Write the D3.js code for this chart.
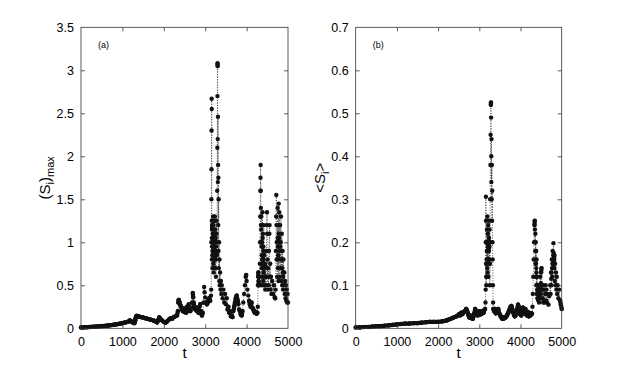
<!DOCTYPE html>
<html>
<head>
<meta charset="utf-8">
<script src="https://cdn.jsdelivr.net/npm/d3@7"></script>
<style>
  html, body { margin: 0; padding: 0; background: #fff; }
  svg { display: block; }
  text { font-family: "Liberation Sans", Arial, Helvetica, sans-serif; fill: #000; }
</style>
</head>
<body>
<svg id="chart" width="623" height="370"></svg>
<script>
// ---------------- data ----------------
const xTicks = [0, 1000, 2000, 3000, 4000, 5000];
const yTicksA = [0, 0.5, 1, 1.5, 2, 2.5, 3, 3.5];
const yTicksB = [0, 0.1, 0.2, 0.3, 0.4, 0.5, 0.6, 0.7];

// panel (a): (S_i)_max vs t  -- [t, value]
const seriesA = [
  [0,0.01],[50,0.01],[100,0.012],[150,0.013],[200,0.015],[250,0.016],[300,0.018],[350,0.02],
  [400,0.022],[450,0.024],[500,0.026],[550,0.027],[600,0.03],[650,0.032],[700,0.035],[750,0.038],
  [800,0.042],[850,0.046],[900,0.05],[950,0.055],[1000,0.06],[1050,0.066],[1100,0.072],[1150,0.08],
  [1180,0.09],[1200,0.085],[1230,0.075],[1260,0.065],[1290,0.06],[1310,0.09],[1320,0.12],[1340,0.145],
  [1370,0.14],[1400,0.138],[1450,0.13],[1500,0.125],[1550,0.118],[1600,0.112],[1650,0.105],[1700,0.098],
  [1750,0.09],[1800,0.08],[1840,0.07],[1870,0.1],[1890,0.125],[1910,0.115],[1950,0.095],[2000,0.075],
  [2040,0.065],[2080,0.08],[2120,0.1],[2160,0.115],[2200,0.11],[2240,0.13],[2280,0.14],[2320,0.15],
  [2340,0.2],[2350,0.3],[2360,0.33],[2380,0.3],[2400,0.27],[2420,0.25],[2440,0.22],[2460,0.2],
  [2480,0.23],[2500,0.19],[2520,0.22],[2540,0.18],[2560,0.25],[2580,0.2],[2600,0.28],[2620,0.22],
  [2640,0.2],[2660,0.24],[2680,0.3],[2700,0.41],[2710,0.36],[2720,0.3],[2740,0.25],[2760,0.22],
  [2780,0.24],[2800,0.2],[2820,0.23],[2840,0.18],[2860,0.25],[2880,0.28],[2900,0.2],[2920,0.15],
  [2940,0.18],[2960,0.3],[2975,0.48],[2985,0.42],[3000,0.36],[3020,0.3],[3040,0.28],[3060,0.3],
  [3080,0.33],[3100,0.35],[3120,0.32],[3140,0.38],[3145,0.45],[3148,1.0],[3150,1.5],[3152,1.85],
  [3154,2.3],[3156,2.67],[3158,2.55],[3160,1.25],[3162,1.05],[3163,0.8],[3165,0.95],[3166,1.2],
  [3168,1.15],[3170,1.0],[3172,0.85],[3175,0.7],[3178,0.9],[3180,1.1],[3183,1.0],[3185,0.9],
  [3188,1.05],[3190,1.3],[3192,1.0],[3195,0.75],[3198,0.95],[3200,1.2],[3202,0.9],[3205,0.65],
  [3208,0.8],[3210,1.0],[3213,1.1],[3215,1.25],[3218,0.95],[3220,0.7],[3223,0.85],[3225,1.1],
  [3228,1.0],[3230,0.9],[3233,1.1],[3235,1.3],[3238,1.05],[3240,0.8],[3243,1.0],[3245,1.15],
  [3248,0.9],[3250,0.7],[3253,0.85],[3255,1.05],[3258,0.8],[3260,0.6],[3263,0.95],[3265,1.25],
  [3268,1.1],[3270,0.9],[3278,0.85],[3285,1.0],[3290,1.6],[3293,2.1],[3296,2.7],[3298,3.08],
  [3300,3.05],[3303,2.2],[3306,1.7],[3309,2.46],[3312,1.9],[3315,1.2],[3318,1.75],[3321,0.9],
  [3325,1.5],[3330,0.7],[3335,1.0],[3340,0.55],[3345,0.8],[3350,0.5],[3360,0.65],[3370,0.45],
  [3380,0.55],[3390,0.4],[3400,0.5],[3420,0.35],[3440,0.45],[3460,0.3],[3480,0.4],[3500,0.28],
  [3520,0.35],[3540,0.22],[3560,0.25],[3580,0.18],[3600,0.2],[3620,0.14],[3640,0.15],[3660,0.13],
  [3680,0.2],[3700,0.25],[3720,0.3],[3740,0.35],[3760,0.38],[3780,0.33],[3800,0.28],[3820,0.22],
  [3840,0.2],[3860,0.16],[3880,0.15],[3900,0.2],[3920,0.3],[3940,0.4],[3960,0.5],[3980,0.6],
  [3990,0.62],[4000,0.55],[4020,0.45],[4040,0.38],[4060,0.32],[4080,0.28],[4100,0.25],[4120,0.3],
  [4140,0.24],[4160,0.22],[4180,0.2],[4200,0.18],[4220,0.19],[4240,0.17],[4260,0.18],[4270,0.25],
  [4275,0.5],[4280,0.6],[4285,0.65],[4290,0.55],[4300,0.5],[4310,0.6],[4320,0.75],[4325,1.0],
  [4330,1.3],[4333,1.6],[4336,1.75],[4339,1.9],[4342,1.6],[4345,1.4],[4347,1.2],[4350,1.0],
  [4352,1.15],[4355,1.3],[4357,1.0],[4360,0.7],[4362,0.95],[4365,1.2],[4367,0.85],[4370,0.5],
  [4372,0.75],[4375,1.0],[4377,0.8],[4380,0.6],[4382,0.95],[4385,1.35],[4387,1.05],[4390,0.8],
  [4392,0.95],[4395,1.1],[4397,0.8],[4400,0.55],[4402,0.75],[4405,0.95],[4407,0.8],[4410,0.65],
  [4412,0.9],[4415,1.2],[4417,0.85],[4420,0.5],[4422,0.7],[4425,0.85],[4427,0.7],[4430,0.6],
  [4435,0.7],[4440,0.75],[4445,0.6],[4450,0.45],[4455,0.6],[4460,0.7],[4470,0.5],[4480,0.9],
  [4488,1.2],[4492,1.35],[4496,1.1],[4500,0.6],[4505,0.8],[4510,0.45],[4520,0.7],[4530,0.5],
  [4540,0.9],[4550,1.1],[4556,1.2],[4560,0.6],[4570,0.75],[4580,0.45],[4590,0.6],[4600,0.4],
  [4620,0.55],[4640,0.4],[4660,0.5],[4680,0.36],[4690,0.35],[4700,0.45],[4708,0.9],[4714,1.3],
  [4718,1.55],[4722,1.2],[4726,0.8],[4730,1.0],[4740,0.6],[4745,1.0],[4750,1.4],[4752,1.05],
  [4755,0.7],[4757,0.95],[4760,1.2],[4765,0.85],[4770,0.55],[4772,1.0],[4775,1.45],[4777,1.1],
  [4780,0.8],[4785,1.05],[4790,1.35],[4795,0.95],[4800,0.6],[4805,0.9],[4810,1.2],[4815,0.95],
  [4820,0.7],[4825,1.0],[4830,1.3],[4835,0.9],[4840,0.55],[4845,0.8],[4850,1.1],[4855,0.8],
  [4860,0.5],[4865,0.7],[4870,0.9],[4875,0.65],[4880,0.45],[4885,0.6],[4890,0.8],[4895,0.65],
  [4900,0.5],[4910,0.65],[4920,0.4],[4930,0.55],[4940,0.35],[4950,0.5],[4960,0.32],[4970,0.45],
  [4980,0.3],[4990,0.4],[5000,0.3]
];

// panel (b): <S_i> vs t  -- [t, value]
const seriesB = [
  [0,0.002],[100,0.002],[200,0.003],[300,0.003],[400,0.004],[500,0.005],[600,0.005],[700,0.006],
  [800,0.007],[900,0.008],[1000,0.009],[1100,0.01],[1200,0.011],[1300,0.011],[1400,0.012],[1500,0.012],
  [1600,0.013],[1700,0.014],[1800,0.015],[1900,0.015],[2000,0.015],[2100,0.016],[2200,0.018],[2250,0.02],
  [2300,0.022],[2350,0.024],[2400,0.026],[2450,0.028],[2500,0.032],[2530,0.03],[2560,0.036],[2590,0.033],
  [2620,0.038],[2650,0.04],[2680,0.045],[2700,0.042],[2720,0.035],[2740,0.03],[2760,0.025],[2780,0.03],
  [2800,0.024],[2820,0.028],[2840,0.022],[2860,0.028],[2880,0.035],[2900,0.045],[2920,0.035],[2940,0.038],
  [2960,0.03],[2980,0.035],[3000,0.04],[3020,0.032],[3040,0.038],[3060,0.034],[3080,0.04],[3100,0.036],
  [3120,0.042],[3140,0.045],[3150,0.06],[3155,0.09],[3158,0.2],[3160,0.306],[3162,0.25],[3165,0.15],
  [3168,0.12],[3170,0.1],[3172,0.15],[3175,0.2],[3178,0.16],[3180,0.12],[3183,0.18],[3185,0.23],
  [3188,0.18],[3190,0.14],[3193,0.2],[3195,0.26],[3198,0.2],[3200,0.13],[3203,0.18],[3205,0.22],
  [3208,0.19],[3210,0.16],[3213,0.2],[3215,0.24],[3218,0.18],[3220,0.12],[3223,0.16],[3225,0.2],
  [3228,0.19],[3230,0.18],[3235,0.21],[3240,0.25],[3243,0.2],[3245,0.15],[3248,0.19],[3250,0.23],
  [3253,0.16],[3255,0.1],[3258,0.15],[3260,0.2],[3265,0.3],[3270,0.38],[3275,0.45],[3280,0.52],
  [3283,0.525],[3286,0.49],[3290,0.4],[3293,0.34],[3296,0.44],[3300,0.3],[3305,0.38],[3310,0.25],
  [3315,0.32],[3320,0.2],[3325,0.16],[3330,0.1],[3335,0.06],[3340,0.045],[3360,0.04],[3380,0.045],
  [3400,0.035],[3420,0.04],[3440,0.038],[3460,0.045],[3480,0.035],[3500,0.032],[3520,0.028],[3540,0.025],
  [3560,0.022],[3580,0.022],[3600,0.025],[3620,0.024],[3640,0.026],[3660,0.028],[3680,0.032],[3700,0.035],
  [3720,0.04],[3740,0.045],[3760,0.05],[3780,0.052],[3800,0.045],[3820,0.038],[3840,0.032],[3860,0.028],
  [3880,0.03],[3900,0.035],[3920,0.045],[3940,0.055],[3960,0.05],[3980,0.04],[4000,0.032],[4020,0.03],
  [4040,0.04],[4060,0.048],[4080,0.04],[4100,0.035],[4120,0.045],[4140,0.032],[4160,0.03],[4180,0.038],
  [4200,0.028],[4220,0.032],[4240,0.03],[4260,0.035],[4280,0.034],[4290,0.05],[4300,0.08],[4310,0.12],
  [4320,0.16],[4330,0.2],[4340,0.24],[4345,0.25],[4350,0.23],[4355,0.2],[4360,0.22],[4362,0.18],
  [4365,0.15],[4367,0.18],[4370,0.2],[4372,0.16],[4375,0.12],[4377,0.15],[4380,0.18],[4382,0.14],
  [4385,0.1],[4387,0.13],[4390,0.16],[4392,0.12],[4395,0.08],[4397,0.1],[4400,0.12],[4405,0.09],
  [4410,0.07],[4415,0.085],[4420,0.1],[4425,0.08],[4430,0.065],[4435,0.078],[4440,0.09],[4445,0.075],
  [4450,0.06],[4455,0.08],[4460,0.1],[4465,0.085],[4470,0.07],[4475,0.095],[4480,0.12],[4485,0.1],
  [4490,0.08],[4495,0.105],[4500,0.13],[4510,0.14],[4520,0.1],[4530,0.07],[4540,0.09],[4550,0.06],
  [4560,0.1],[4570,0.065],[4580,0.09],[4590,0.06],[4600,0.08],[4610,0.1],[4620,0.065],[4630,0.09],
  [4640,0.06],[4660,0.08],[4680,0.055],[4700,0.075],[4720,0.1],[4730,0.08],[4740,0.13],[4745,0.115],
  [4750,0.1],[4755,0.13],[4760,0.16],[4765,0.14],[4770,0.12],[4775,0.15],[4780,0.18],[4785,0.16],
  [4790,0.14],[4795,0.17],[4800,0.198],[4805,0.175],[4810,0.15],[4815,0.16],[4820,0.17],[4825,0.14],
  [4830,0.11],[4840,0.15],[4850,0.1],[4860,0.13],[4870,0.09],[4880,0.12],[4890,0.08],[4900,0.1],
  [4920,0.07],[4940,0.09],[4960,0.065],[4980,0.055],[5000,0.045]
];

// ---------------- drawing ----------------
const svg = d3.select("#chart");

function panel(opts) {
  const { left, right, top, bottom, yMax, yTicks, data, tag, yLabel, labelX } = opts;
  const x = d3.scaleLinear().domain([0, 5000]).range([left, right]);
  const y = d3.scaleLinear().domain([0, yMax]).range([bottom, top]);
  const g = svg.append("g");

  const segs = d3.pairs(data);
  const steep = s => Math.abs(y(s[0][1]) - y(s[1][1])) >= 5;
  // steep jumps: thin dotted connectors
  g.append("g").selectAll("line").data(segs.filter(steep)).join("line")
    .attr("x1", d => x(d[0][0])).attr("y1", d => y(d[0][1]))
    .attr("x2", d => x(d[1][0])).attr("y2", d => y(d[1][1]))
    .attr("stroke", "#444").attr("stroke-width", 0.9).attr("stroke-dasharray", "1,1.6");
  // gentle steps: continuous thick trace of overlapping markers
  g.append("g").selectAll("line").data(segs.filter(s => !steep(s))).join("line")
    .attr("x1", d => x(d[0][0])).attr("y1", d => y(d[0][1]))
    .attr("x2", d => x(d[1][0])).attr("y2", d => y(d[1][1]))
    .attr("stroke", "#111").attr("stroke-width", 4.2).attr("stroke-linecap", "round");

  // markers
  g.append("g").selectAll("circle").data(data).join("circle")
    .attr("cx", d => x(d[0])).attr("cy", d => y(d[1])).attr("r", 2.2)
    .attr("fill", "#111");

  // frame
  g.append("rect").attr("x", left).attr("y", top)
    .attr("width", right - left).attr("height", bottom - top)
    .attr("fill", "none").attr("stroke", "#333").attr("stroke-width", 0.8);

  const fmt = d3.format("~g");
  const xb = g.append("g").attr("transform", `translate(0,${bottom})`)
    .call(d3.axisBottom(x).tickValues(xTicks).tickSize(-4).tickPadding(9).tickFormat(d3.format("d")));
  const xt = g.append("g").attr("transform", `translate(0,${top})`)
    .call(d3.axisTop(x).tickValues(xTicks).tickSize(-4).tickFormat(""));
  const yl = g.append("g").attr("transform", `translate(${left},0)`)
    .call(d3.axisLeft(y).tickValues(yTicks).tickSize(-4).tickPadding(7).tickFormat(fmt));
  const yr = g.append("g").attr("transform", `translate(${right},0)`)
    .call(d3.axisRight(y).tickValues(yTicks).tickSize(-4).tickFormat(""));
  [xb, xt, yl, yr].forEach(a => {
    a.select(".domain").remove();
    a.selectAll(".tick line").attr("stroke", "#333").attr("stroke-width", 0.8);
    a.selectAll("text").attr("font-size", 12.5).attr("fill", "#000")
      .attr("font-family", "'Liberation Sans', Arial, sans-serif");
  });
  yl.selectAll(".tick:first-of-type line, .tick:last-of-type line").remove();
  yr.selectAll(".tick:first-of-type line, .tick:last-of-type line").remove();
  xb.selectAll(".tick:first-of-type line, .tick:last-of-type line").remove();
  xt.selectAll(".tick:first-of-type line, .tick:last-of-type line").remove();

  g.append("text").attr("x", x(0) + 17).attr("y", top + 21)
    .attr("font-size", 9).text(tag);

  g.append("text").attr("x", (left + right) / 2).attr("y", 358)
    .attr("text-anchor", "middle").attr("font-size", 15).text("t");

  const yt = g.append("text")
    .attr("transform", `translate(${labelX},${(top + bottom) / 2}) rotate(-90)`)
    .attr("text-anchor", "middle").attr("font-size", 15);
  yLabel(yt);
}

panel({
  left: 81, right: 288, top: 27.3, bottom: 328.3, yMax: 3.5, yTicks: yTicksA,
  data: seriesA, tag: "(a)", labelX: 50,
  yLabel: t => {
    t.append("tspan").text("(S");
    t.append("tspan").attr("font-size", 11).attr("dy", 4).text("i");
    t.append("tspan").attr("dy", -4).text(")");
    t.append("tspan").attr("font-size", 11).attr("dy", 4).text("max");
  }
});

panel({
  left: 355.7, right: 561.7, top: 27.3, bottom: 328.3, yMax: 0.7, yTicks: yTicksB,
  data: seriesB, tag: "(b)", labelX: 325,
  yLabel: t => {
    t.append("tspan").text("<S");
    t.append("tspan").attr("font-size", 11).attr("dy", 4).text("i");
    t.append("tspan").attr("dy", -4).text(">");
  }
});
</script>
</body>
</html>
